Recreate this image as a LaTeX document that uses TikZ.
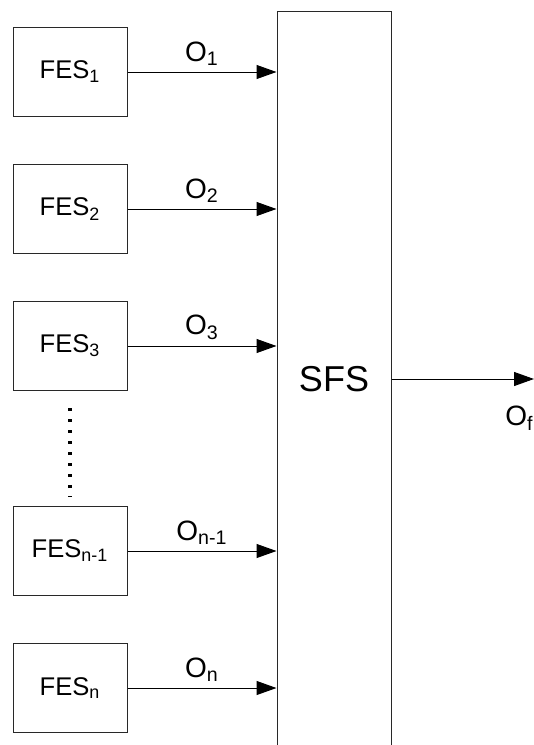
\documentclass[tikz,border=0pt]{standalone}
\usepackage{fontspec}
\setmainfont{Liberation Sans}
\usetikzlibrary{arrows.meta}
\definecolor{borde}{RGB}{40,40,40}

\begin{document}
\begin{tikzpicture}[x=0.5pt, y=-0.5pt,
    fes/.style={draw=borde, line width=0.5pt, minimum width=57pt, minimum height=44.5pt,
      inner sep=0pt, font=\fontsize{12.8}{14}\selectfont},
    flecha/.style={-{Triangle[length=10pt,width=7pt]}, line width=0.5pt},
    salida/.style={inner sep=0pt, font=\fontsize{14}{16}\selectfont}]
  \useasboundingbox (0,0) rectangle (534,745);
  % bloques FES
  \node[fes] (fes1) at (70,72) {FES\textsubscript{1}};
  \node[fes] (fes2) at (70,209) {FES\textsubscript{2}};
  \node[fes] (fes3) at (70,346) {FES\textsubscript{3}};
  \node[fes] (fesm) at (70,551) {FES\textsubscript{n-1}};
  \node[fes] (fesn) at (70,688) {FES\textsubscript{n}};
  % puntos
  \draw[line width=1.6pt, dash pattern=on 1.6pt off 3.9pt, shorten <=8.5pt, shorten >=4.5pt]
    (fes3.south) -- (fesm.north);
  % bloque SFS
  \node[draw=borde, line width=0.5pt, minimum width=57pt, minimum height=368pt,
    inner sep=0pt, font=\fontsize{18}{20}\selectfont] (sfs) at (334,379) {SFS};
  % salidas
  \draw[flecha] (fes1.east) -- (fes1.east -| sfs.west) node[midway, above=3pt, salida] {O\textsubscript{1}};
  \draw[flecha] (fes2.east) -- (fes2.east -| sfs.west) node[midway, above=3pt, salida] {O\textsubscript{2}};
  \draw[flecha] (fes3.east) -- (fes3.east -| sfs.west) node[midway, above=3pt, salida] {O\textsubscript{3}};
  \draw[flecha] (fesm.east) -- (fesm.east -| sfs.west) node[midway, above=3pt, salida] {O\textsubscript{n-1}};
  \draw[flecha] (fesn.east) -- (fesn.east -| sfs.west) node[midway, above=3pt, salida] {O\textsubscript{n}};
  % salida final
  \coordinate (fin) at (534,379);
  \draw[flecha] (sfs.east) -- (fin);
  \node[salida, anchor=north west] (of) at (505,406) {O\textsubscript{f}};
\end{tikzpicture}
\end{document}
